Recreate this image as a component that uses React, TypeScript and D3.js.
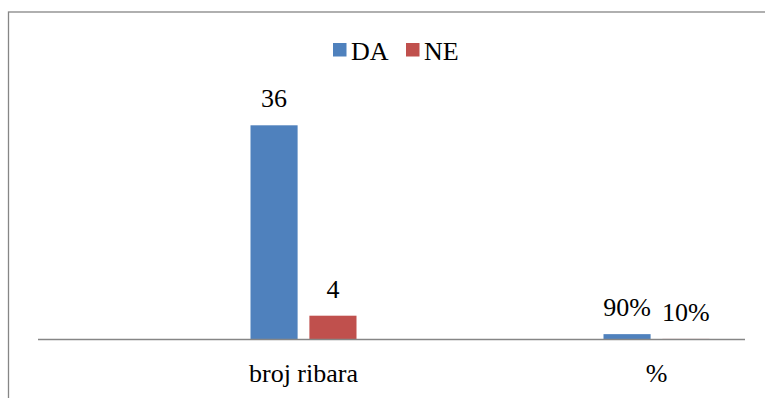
import React from "react";
import * as d3 from "d3";

const categories = ["broj ribara", "%"];
const seriesNames = ["DA", "NE"];
const daValues = [36, 0.9];
const neValues = [4, 0.1];
const daLabels = ["36", "90%"];
const neLabels = ["4", "10%"];

const colors: Record<string, string> = { DA: "#4F81BD", NE: "#C0504D" };
const FONT = "Liberation Serif";
const FONT_SIZE = 26;

export default function App() {
  const width = 765;
  const height = 398;
  const axisY = 339.5;

  const x = d3.scaleBand<string>().domain(categories).range([127, 833]);
  const groupWidth = 106;
  const xs = d3
    .scaleBand<string>()
    .domain(seriesNames)
    .range([0, groupWidth])
    .paddingInner(0.2);
  const y = d3.scaleLinear().domain([0, 40]).range([axisY, 101.5]);

  const series = [
    { name: "DA", values: daValues, labels: daLabels },
    { name: "NE", values: neValues, labels: neLabels },
  ];

  const groupStart = (c: string) => x(c)! + x.bandwidth() / 2 - groupWidth / 2;

  return (
    <svg
      width={width}
      height={height}
      style={{ position: "absolute", left: 0, top: 0, background: "#fff" }}
    >
      {/* chart frame */}
      <rect
        x={8.5}
        y={12}
        width={800}
        height={420}
        fill="#fff"
        stroke="#868686"
        strokeWidth={1.3}
      />

      {/* legend */}
      <g>
        {seriesNames.map((s, i) => {
          const lx = i === 0 ? 333 : 406;
          return (
            <g key={s}>
              <rect x={lx} y={43} width={13.5} height={13.5} fill={colors[s]} />
              <text x={lx + 18} y={59.5} fontSize={FONT_SIZE} fontFamily={FONT} fill="#000">
                {s}
              </text>
            </g>
          );
        })}
      </g>

      {/* bars with value labels */}
      {series.map((s) => (
        <g key={s.name}>
          {categories.map((c, i) => {
            const bx = groupStart(c) + xs(s.name)!;
            const by = y(s.values[i]);
            return (
              <g key={c}>
                <rect
                  x={bx}
                  y={by}
                  width={xs.bandwidth()}
                  height={axisY - by}
                  fill={colors[s.name]}
                />
                <text
                  x={bx + xs.bandwidth() / 2}
                  y={by - 18}
                  fontSize={FONT_SIZE}
                  fontFamily={FONT}
                  textAnchor="middle"
                  fill="#000"
                >
                  {s.labels[i]}
                </text>
              </g>
            );
          })}
        </g>
      ))}

      {/* category axis */}
      <line x1={38} x2={745} y1={axisY} y2={axisY} stroke="#868686" strokeWidth={1.3} />
      {categories.map((c) => (
        <text
          key={c}
          x={x(c)! + x.bandwidth() / 2}
          y={381.5}
          fontSize={FONT_SIZE}
          fontFamily={FONT}
          textAnchor="middle"
          fill="#000"
        >
          {c}
        </text>
      ))}
    </svg>
  );
}
